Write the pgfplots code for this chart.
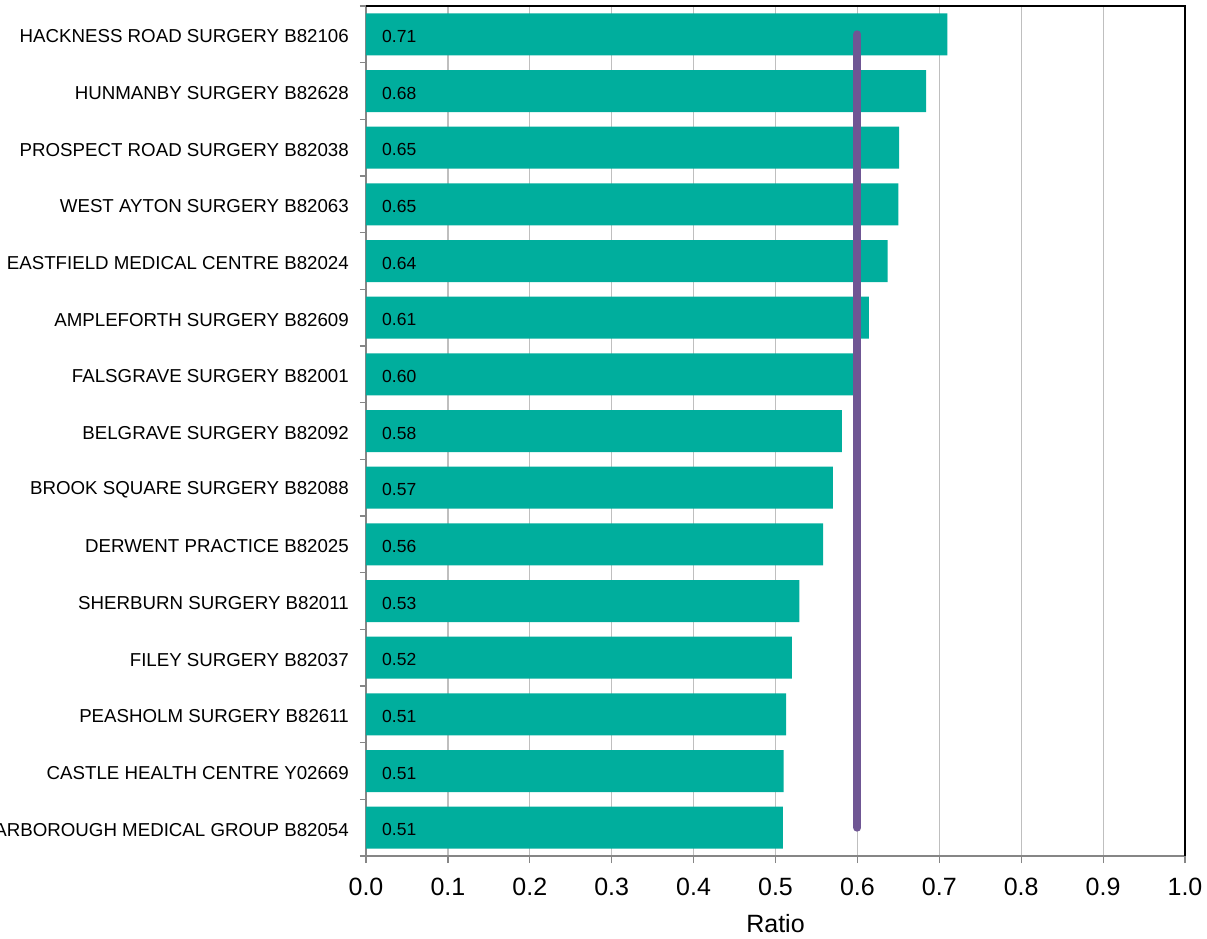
\documentclass[border=0pt]{standalone}
\usepackage{pgfplots}
\pgfplotsset{compat=1.18}
\usepackage{pgfplotstable}
\usepackage{fontspec}
\setmainfont{Liberation Sans}
\definecolor{barteal}{RGB}{0,174,157}
\definecolor{refpurple}{RGB}{111,86,148}
\definecolor{gridgray}{RGB}{191,191,191}
\definecolor{axisgray}{RGB}{134,134,134}
\pgfplotstableread{
idx val zero lab
0 0.710 0 0.71
1 0.684 0 0.68
2 0.651 0 0.65
3 0.650 0 0.65
4 0.637 0 0.64
5 0.614 0 0.61
6 0.597 0 0.60
7 0.581 0 0.58
8 0.570 0 0.57
9 0.558 0 0.56
10 0.529 0 0.53
11 0.520 0 0.52
12 0.513 0 0.51
13 0.510 0 0.51
14 0.509 0 0.51
}\datatable
\begin{document}
\begin{tikzpicture}
\path[use as bounding box] (0,0) rectangle (1207pt,939pt);
\clip (0,0) rectangle (1207pt,939pt);
\begin{axis}[
  at={(366pt,83pt)}, anchor=south west,
  scale only axis, width=819pt, height=850pt,
  xmin=0, xmax=1, ymin=-0.5, ymax=14.5,
  y dir=reverse,
  axis x line*=bottom, axis y line*=left,
  axis line style={axisgray, line width=1.2pt},
  xtick={0,0.1,...,1.0},
  /pgf/number format/fixed,
  /pgf/number format/fixed zerofill,
  /pgf/number format/precision=1,
  /pgf/number format/assume math mode=true,
  xticklabel style={font=\fontsize{25}{30}\selectfont, yshift=-12pt},
  tick align=outside,
  major tick length=7pt,
  minor tick length=6pt,
  major x tick style={axisgray, line width=1.2pt},
  major y tick style={draw=none},
  minor y tick style={axisgray, line width=1.2pt},
  xmajorgrids, major x grid style={gridgray, line width=1.2pt},
  ytick={0,...,14},
  minor ytick={-0.5,0.5,...,14.5},
  yticklabels={HACKNESS ROAD SURGERY B82106, HUNMANBY SURGERY B82628, PROSPECT ROAD SURGERY B82038, WEST AYTON SURGERY B82063, EASTFIELD MEDICAL CENTRE B82024, AMPLEFORTH SURGERY B82609, FALSGRAVE SURGERY B82001, BELGRAVE SURGERY B82092, BROOK SQUARE SURGERY B82088, DERWENT PRACTICE B82025, SHERBURN SURGERY B82011, FILEY SURGERY B82037, PEASHOLM SURGERY B82611, CASTLE HEALTH CENTRE Y02669, SCARBOROUGH MEDICAL GROUP B82054},
  yticklabel style={font=\fontsize{18.7}{22}\selectfont, anchor=east, inner sep=0pt, xshift=-10pt, yshift=-2pt},
  xlabel={Ratio},
  xlabel style={font=\fontsize{25}{30}\selectfont, inner sep=0pt, yshift=-15pt},
  clip=false,
]
\addplot[xbar, bar width=42pt, fill=barteal, draw=none] table[x=val, y=idx] {\datatable};
\addplot[only marks, mark=none, nodes near coords, point meta=explicit symbolic,
  nodes near coords style={anchor=west, xshift=16pt, yshift=-2pt, font=\fontsize{17.5}{20}\selectfont, inner sep=0pt}]
  table[x=zero, y=idx, meta=lab] {\datatable};
\addplot[refpurple, line width=8pt, line cap=round] coordinates {(0.6,0) (0.6,14)};
\draw[black, line width=1.5pt] (rel axis cs:0,1) -- (rel axis cs:1,1) -- (rel axis cs:1,0);
\end{axis}
\end{tikzpicture}
\end{document}
